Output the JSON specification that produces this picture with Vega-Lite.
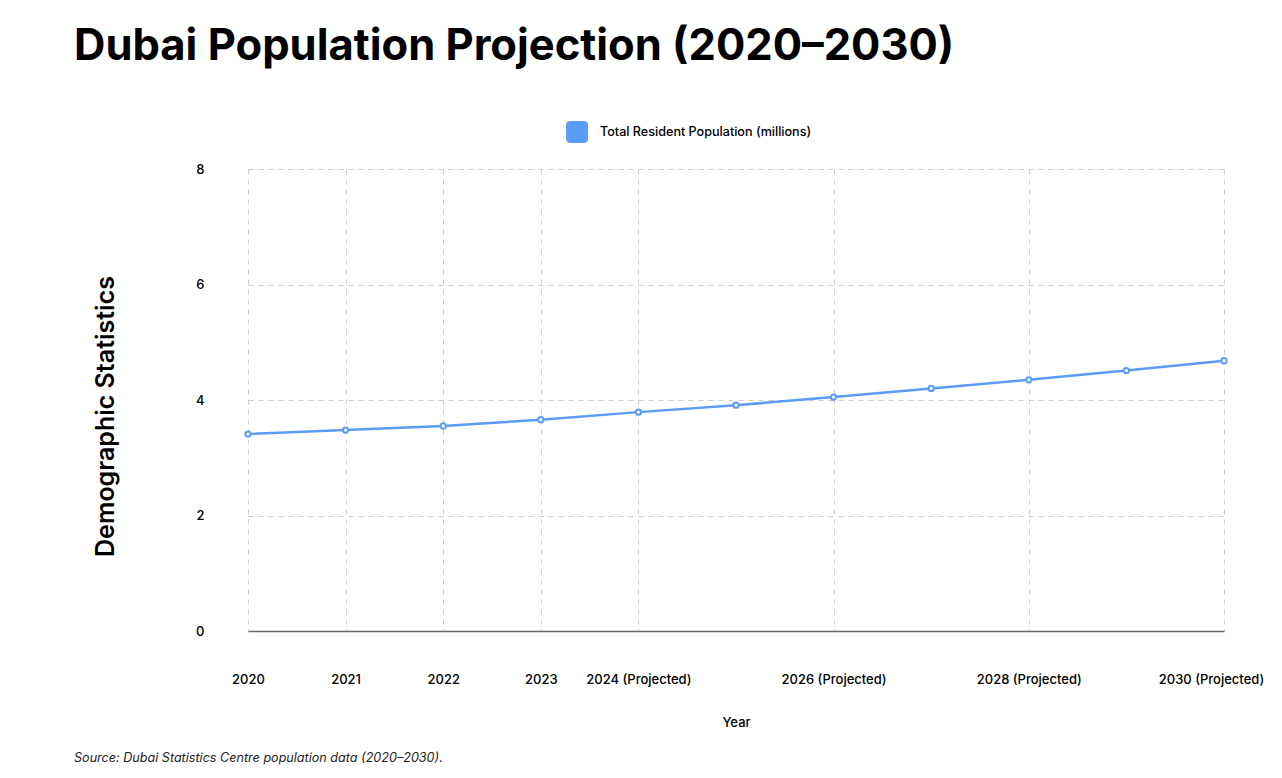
{
  "$schema": "https://vega.github.io/schema/vega-lite/v6.json",
  "background": "white",
  "padding": {"left": 74, "top": 24, "right": 10, "bottom": 10},
  "config": {
    "font": "Inter",
    "view": {"stroke": null},
    "concat": {"spacing": 0}
  },
  "title": {
    "text": "Source: Dubai Statistics Centre population data (2020–2030).",
    "orient": "bottom",
    "anchor": "start",
    "frame": "bounds",
    "font": "Inter",
    "fontSize": 12.6,
    "fontStyle": "italic",
    "fontWeight": "normal",
    "color": "#222222",
    "offset": 23
  },
  "vconcat": [
    {
      "width": 976,
      "height": 462,
      "title": {
        "text": "Dubai Population Projection (2020–2030)",
        "anchor": "start",
        "frame": "group",
        "dx": -174,
        "font": "Inter",
        "fontSize": 43.5,
        "fontWeight": "bold",
        "color": "#000000",
        "offset": 94
      },
      "data": {
        "values": [
          {"year": "2020", "value": 3.41, "series": "Total Resident Population (millions)"},
          {"year": "2021", "value": 3.48, "series": "Total Resident Population (millions)"},
          {"year": "2022", "value": 3.55, "series": "Total Resident Population (millions)"},
          {"year": "2023", "value": 3.66, "series": "Total Resident Population (millions)"},
          {"year": "2024 (Projected)", "value": 3.79, "series": "Total Resident Population (millions)"},
          {"year": "2025 (Projected)", "value": 3.91, "series": "Total Resident Population (millions)"},
          {"year": "2026 (Projected)", "value": 4.05, "series": "Total Resident Population (millions)"},
          {"year": "2027 (Projected)", "value": 4.20, "series": "Total Resident Population (millions)"},
          {"year": "2028 (Projected)", "value": 4.35, "series": "Total Resident Population (millions)"},
          {"year": "2029 (Projected)", "value": 4.51, "series": "Total Resident Population (millions)"},
          {"year": "2030 (Projected)", "value": 4.68, "series": "Total Resident Population (millions)"}
        ]
      },
      "mark": {
        "type": "line",
        "strokeWidth": 2.5,
        "point": {"filled": false, "fill": "white", "size": 28, "strokeWidth": 2}
      },
      "encoding": {
        "x": {
          "field": "year",
          "type": "point",
          "sort": null,
          "scale": {"padding": 0},
          "axis": {
            "title": "Year",
            "titleFont": "Inter",
            "titleFontSize": 13,
            "titleFontWeight": 500,
            "titleColor": "#000000",
            "titleY": 85,
            "values": ["2020", "2021", "2022", "2023", "2024 (Projected)", "2026 (Projected)", "2028 (Projected)", "2030 (Projected)"],
            "labelAngle": 0,
            "labelFont": "Inter",
            "labelFontSize": 13,
            "labelFontWeight": 500,
            "labelColor": "#000000",
            "labelPadding": 42,
            "labelOverlap": false,
            "labelBound": false,
            "labelFlush": false,
            "labelOffset": {"condition": {"test": "datum.value === '2030 (Projected)'", "value": -13}, "value": 0},
            "ticks": false,
            "domain": true,
            "domainColor": "#666666",
            "domainWidth": 1.5,
            "grid": true,
            "gridColor": "#cccccc",
            "gridDash": [5, 5],
            "gridWidth": 1
          }
        },
        "y": {
          "field": "value",
          "type": "quantitative",
          "scale": {"domain": [0, 8], "nice": false},
          "axis": {
            "title": "Demographic Statistics",
            "titleFont": "Inter",
            "titleFontSize": 25,
            "titleFontWeight": 600,
            "titleColor": "#000000",
            "titleX": -130,
            "titleY": 247,
            "values": [0, 2, 4, 6, 8],
            "labelFont": "Inter",
            "labelFontSize": 13,
            "labelFontWeight": 500,
            "labelColor": "#000000",
            "labelPadding": 44,
            "ticks": false,
            "domain": false,
            "grid": true,
            "gridColor": "#cccccc",
            "gridDash": [5, 5],
            "gridWidth": 1
          }
        },
        "color": {
          "field": "series",
          "type": "nominal",
          "scale": {"range": ["#5b9cf6"]},
          "legend": {
            "title": null,
            "orient": "none",
            "legendX": 318,
            "legendY": -48,
            "padding": 0,
            "symbolType": "M -0.6 -1 H 0.6 Q 1 -1 1 -0.6 V 0.6 Q 1 1 0.6 1 H -0.6 Q -1 1 -1 0.6 V -0.6 Q -1 -1 -0.6 -1 Z",
            "symbolSize": 484,
            "symbolFillColor": "#5b9cf6",
            "symbolStrokeColor": "#5b9cf6",
            "symbolStrokeWidth": 0,
            "symbolOpacity": 1,
            "labelFont": "Inter",
            "labelFontSize": 12.6,
            "labelFontWeight": 500,
            "labelColor": "#000000",
            "labelOffset": 12,
            "labelLimit": 400,
            "encode": {
              "symbols": {
                "update": {
                  "fill": {"value": "#5b9cf6"},
                  "stroke": {"value": "#5b9cf6"},
                  "strokeWidth": {"value": 0},
                  "opacity": {"value": 1}
                }
              }
            }
          }
        }
      }
    }
  ]
}
